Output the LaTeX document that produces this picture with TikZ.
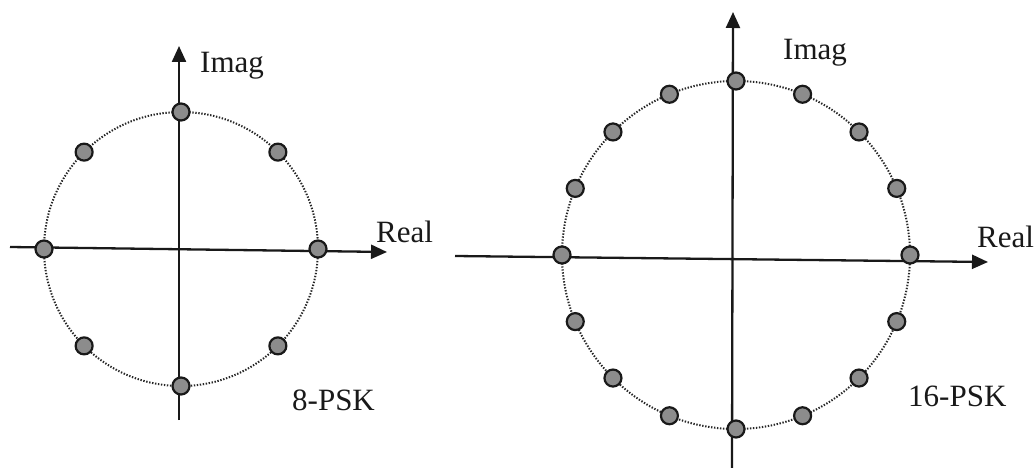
\documentclass[tikz,border=0pt]{standalone}
\usepackage{fontspec}
\setmainfont{Liberation Serif}
\usetikzlibrary{arrows.meta,calc}
\begin{document}
\begin{tikzpicture}[x=1pt,y=-1pt,
  axis/.style={line width=2.3pt,draw=black!90,-{Triangle[length=16pt,width=14pt]}},
  ring/.style={draw=black!85,line width=2pt,dash pattern=on 1.4pt off 1.6pt},
  sym/.style={circle,fill=black!45,draw=black!90,line width=2.2pt,minimum size=17pt,inner sep=0pt},
  lbl/.style={font=\fontsize{31}{36}\selectfont,anchor=base west,inner sep=0pt,text=black!90}]
\useasboundingbox (0,0) rectangle (1036,468);
% ---------- 8-PSK ----------
\coordinate (c8) at (181,249);
\coordinate (l8w) at (10,247);
\coordinate (l8e) at (387,252);
\coordinate (l8s) at (179,420);
\coordinate (l8n) at (179,46);
\draw[ring] (c8) circle[radius=137];
\draw[axis] (l8w) -- (l8e);
\draw[axis] (l8s) -- (l8n);
\foreach \i in {0,...,7}{
  \node[sym] (p8-\i) at ($(c8)+({\i*45}:137)$) {};
}
\node[lbl] (imag8) at (200,73) {Imag};
\node[lbl] (real8) at (376,242) {Real};
\node[lbl] (psk8) at (292,410) {8-PSK};
% ---------- 16-PSK ----------
\coordinate (c16) at (736,255);
\coordinate (l16w) at (455,256);
\coordinate (l16e) at (988,262);
\coordinate (l16s) at (732,468);
\coordinate (l16n) at (733,12);
\draw[ring] (c16) circle[radius=174];
\draw[axis] (l16w) -- (l16e);
\draw[axis] (l16s) -- (l16n);
\foreach \i in {0,...,15}{
  \node[sym] (p16-\i) at ($(c16)+({\i*22.5}:174)$) {};
}
\node[lbl] (imag16) at (783,60) {Imag};
\node[lbl] (real16) at (977,247) {Real};
\node[lbl] (psk16) at (908,406) {16-PSK};
\end{tikzpicture}
\end{document}
